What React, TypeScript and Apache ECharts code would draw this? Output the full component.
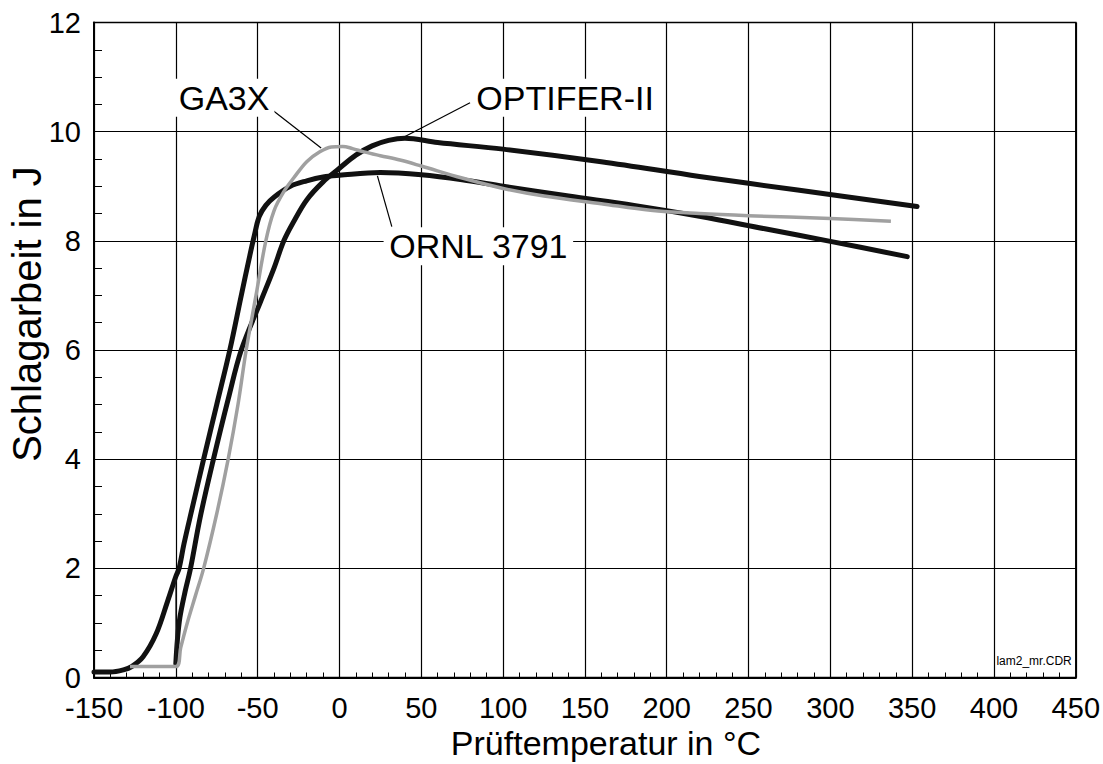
import React, { useEffect, useRef } from "react";
import * as echarts from "echarts";

// Prüftemperatur (°C) , Schlagarbeit (J)
const ornl3791: [number, number][] = [
  [-150, 0.1], [-140, 0.1], [-132, 0.14], [-127, 0.2], [-120, 0.38], [-112, 0.8],
  [-105, 1.4], [-100, 1.85], [-98, 2.0], [-95, 2.45], [-90, 3.1], [-83, 4.0],
  [-75, 5.0], [-67, 6.0], [-60, 7.0], [-55, 7.7], [-52, 8.1], [-49, 8.45],
  [-45, 8.65], [-40, 8.8], [-30, 9.0], [-20, 9.1], [-10, 9.17], [0, 9.2],
  [25, 9.25], [50, 9.21], [75, 9.12], [100, 9.0], [140, 8.82], [180, 8.65],
  [220, 8.45], [260, 8.22], [300, 7.99], [347, 7.71],
];

const optifer2: [number, number][] = [
  [-100, 0.25], [-99, 0.7], [-97.5, 1.1], [-94.5, 1.55], [-91, 2.0], [-85, 2.95],
  [-77, 4.0], [-68, 5.1], [-60, 6.0], [-48, 6.9], [-40, 7.5], [-34, 8.0],
  [-28, 8.35], [-20, 8.75], [-10, 9.08], [0, 9.33], [10, 9.57], [20, 9.74],
  [30, 9.84], [40, 9.88], [60, 9.8], [100, 9.68], [160, 9.45], [220, 9.18],
  [280, 8.93], [353, 8.63],
];

const ga3x: [number, number][] = [
  [-128, 0.2], [-100, 0.2], [-97, 0.55], [-93, 1.0], [-88, 1.5], [-83, 2.0],
  [-75, 3.0], [-68, 4.0], [-62, 5.0], [-57, 6.0], [-51, 7.0], [-45, 8.0],
  [-40, 8.55], [-34, 8.9], [-28, 9.15], [-20, 9.45], [-12, 9.63], [-5, 9.72],
  [2, 9.73], [8, 9.69], [15, 9.63], [25, 9.56], [37, 9.48], [50, 9.37],
  [75, 9.15], [100, 8.96], [125, 8.82], [160, 8.68], [190, 8.56], [220, 8.5],
  [250, 8.46], [300, 8.41], [337, 8.36],
];

const connector: [number, number][] = [[-100, 0.25], [-100, 1.8]];

const labelNames = ["GA3X", "OPTIFER-II", "ORNL 3791"];
const labelPos: [number, number][] = [[-70.5, 10.62], [137.9, 10.62], [84.9, 7.9]];
const leaderGA3X: [number, number][] = [[-42.4, 10.43], [-11.2, 9.7]];
const leaderOptifer: [number, number][] = [[79.8, 10.53], [40.1, 9.91]];
const leaderOrnl: [number, number][] = [[32, 8.26], [23.2, 9.19]];

const fileTag = "lam2_mr.CDR";
const fileTagPos: [number, number] = [424.5, 0.3];

const xTitle = "Prüftemperatur in °C";
const yTitle = "Schlagarbeit in J";

const xMin = -150, xMax = 450, xStep = 50;
const yMin = 0, yMax = 12, yStep = 2;

const FONT = "'Liberation Sans', Arial, sans-serif";

export default function App() {
  const ref = useRef<HTMLDivElement>(null);
  useEffect(() => {
    if (!ref.current) return;
    const chart = echarts.init(ref.current, undefined, { renderer: "svg" });
    const leader = (data: [number, number][]) => ({
      type: "line",
      data,
      symbol: "none",
      silent: true,
      lineStyle: { color: "#000", width: 1.2 },
      z: 3,
    });
    chart.setOption({
      animation: false,
      backgroundColor: "#fff",
      grid: {
        left: 94, right: 27, top: 22.5, bottom: 86.5,
        show: true, borderColor: "#000", borderWidth: 1.5,
      },
      graphic: [
        {
          type: "text",
          x: 27, y: 314,
          rotation: Math.PI / 2,
          style: {
            text: yTitle, fontSize: 40, fontFamily: FONT, fill: "#000",
            align: "center", verticalAlign: "middle",
          },
        },
        {
          type: "text",
          x: 606, y: 743,
          style: {
            text: xTitle, fontSize: 34, fontFamily: FONT, fill: "#000",
            align: "center", verticalAlign: "middle",
          },
        },
      ],
      xAxis: {
        type: "value",
        min: xMin, max: xMax, interval: xStep,
        axisLine: { show: true, onZero: false, lineStyle: { color: "#000", width: 2 } },
        axisTick: { show: true, inside: true, length: 6, lineStyle: { color: "#000" } },
        minorTick: { show: true, splitNumber: 5, length: 5, lineStyle: { color: "#000" } },
        axisLabel: { fontSize: 29, color: "#000", fontFamily: FONT, margin: 16 },
        splitLine: { show: true, lineStyle: { color: "#000", width: 1.2 } },
      },
      yAxis: {
        type: "value",
        min: yMin, max: yMax, interval: yStep,
        axisLine: { show: true, onZero: false, lineStyle: { color: "#000", width: 2 } },
        axisTick: { show: true, inside: true, length: 8, lineStyle: { color: "#000" } },
        minorTick: { show: true, splitNumber: 4, length: 8, lineStyle: { color: "#000" } },
        axisLabel: { fontSize: 29, color: "#000", fontFamily: FONT, margin: 13 },
        splitLine: { show: true, lineStyle: { color: "#000", width: 1.2 } },
      },
      series: [
        {
          type: "line", name: "ORNL 3791", data: ornl3791, symbol: "none",
          smooth: 0.35,
          lineStyle: { color: "#111", width: 5, cap: "round", join: "round" }, z: 4,
        },
        {
          type: "line", name: "OPTIFER-II", data: optifer2, symbol: "none",
          smooth: 0.35,
          lineStyle: { color: "#111", width: 5, cap: "round", join: "round" }, z: 4,
        },
        {
          type: "line", name: "connector", data: connector, symbol: "none",
          lineStyle: { color: "#222", width: 1 }, z: 4,
        },
        {
          type: "line", name: "GA3X", data: ga3x, symbol: "none",
          smooth: 0.35,
          lineStyle: { color: "#a0a0a0", width: 3.5, join: "round" }, z: 5,
        },
        leader(leaderGA3X),
        leader(leaderOptifer),
        leader(leaderOrnl),
        {
          type: "scatter",
          symbolSize: 0,
          silent: true,
          z: 6,
          itemStyle: { color: "#000", opacity: 1 },
          data: labelNames.map((n, i) => ({ name: n, value: labelPos[i] })),
          label: {
            show: true, position: "inside", formatter: "{b}",
            fontSize: 34, color: "#000", fontFamily: FONT, opacity: 1,
            textBorderWidth: 0, textBorderColor: "transparent",
            backgroundColor: "#fff", padding: [2, 5],
          },
        },
        {
          type: "scatter",
          symbolSize: 0,
          silent: true,
          z: 6,
          itemStyle: { color: "#000", opacity: 1 },
          data: [{ name: fileTag, value: fileTagPos }],
          label: {
            show: true, position: "inside", formatter: "{b}",
            fontSize: 12, color: "#000", fontFamily: FONT, opacity: 1,
            textBorderWidth: 0, textBorderColor: "transparent",
          },
        },
      ],
    });
    return () => chart.dispose();
  }, []);
  return (
    <div
      ref={ref}
      style={{ position: "fixed", left: 0, top: 0, width: 1103, height: 764, background: "#fff" }}
    />
  );
}
